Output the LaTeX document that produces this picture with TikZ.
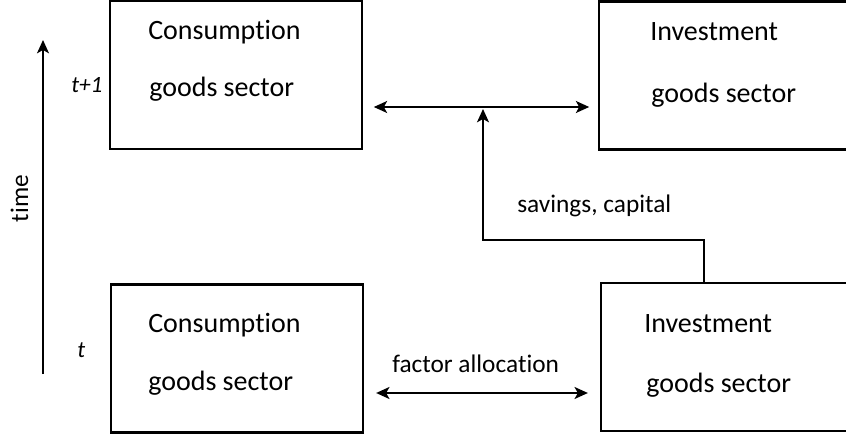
\documentclass[tikz,border=0pt]{standalone}
\usepackage{fontspec}
\setmainfont{Carlito}[Ligatures=NoCommon]
\usetikzlibrary{arrows.meta,positioning,calc}

\begin{document}
\begin{tikzpicture}[
  x=0.75pt, y=-0.75pt,
  sector/.style={
    rectangle,
    draw=black,
    line width=1.7pt,
    inner sep=0pt,
    minimum width=189pt,
    minimum height=111pt
  },
  txt/.style={
    anchor=base west,
    inner sep=0pt,
    font=\fontsize{21}{25}\selectfont
  },
  lbl/.style={
    anchor=base west,
    inner sep=0pt,
    font=\fontsize{19}{23}\selectfont
  },
  tick/.style={
    anchor=base west,
    inner sep=0pt,
    font=\fontsize{17.5}{20}\selectfont\itshape
  },
  link/.style={-{Stealth[length=10pt,width=9pt,inset=2.5pt]}, line width=1.3pt},
  both/.style={{Stealth[length=10pt,width=9pt,inset=2.5pt]}-{Stealth[length=10pt,width=9pt,inset=2.5pt]}, line width=1.3pt}
]
\useasboundingbox (0,0) rectangle (846,438);
\clip (0,0) rectangle (846,438);

% sectors, period t+1 and t
\node[sector] (cons1) at (236,75) {};
\node[sector] (inv1) at (725,75.5) {};
\node[sector] (cons0) at (237,358.5) {};
\node[sector] (inv0) at (727,357) {};

\node[txt] (cons1a) at (148,40) {Consumption};
\node[txt] (cons1b) at (149,97) {goods sector};
\node[txt] (inv1a) at (650,41) {Investment};
\node[txt] (inv1b) at (651,103) {goods sector};
\node[txt] (cons0a) at (148,333) {Consumption};
\node[txt] (cons0b) at (148,390) {goods sector};
\node[txt] (inv0a) at (644,333) {Investment};
\node[txt] (inv0b) at (646,392) {goods sector};

% time axis
\coordinate (tlow) at (43,374);
\coordinate (thigh) at (43,40);
\draw[link] (tlow) -- (thigh);
\node[rotate=90, anchor=base, inner sep=0pt, font=\fontsize{19}{23}\selectfont] (time) at (28,198.5) {time};
\node[tick] (tnext) at (71,93) {t+1};
\node[tick] (tnow) at (77,357) {t};

% flows
\coordinate (mid1) at (483,107);
\coordinate (mid0) at (482,393);
\coordinate (turn) at (704,240);
\draw[both, shorten <=8pt, shorten >=6.5pt] (cons1.east |- mid1) -- (inv1.west |- mid1);
\draw[both, shorten <=9pt, shorten >=9pt] (cons0.east |- mid0) -- (inv0.west |- mid0);
\draw[link, shorten >=1.5pt] (inv0.north -| turn) -- (turn) -| (mid1);

\node[lbl] (savings) at (517,213) {savings, capital};
\node[lbl] (alloc) at (392,373) {factor allocation};

\end{tikzpicture}
\end{document}
